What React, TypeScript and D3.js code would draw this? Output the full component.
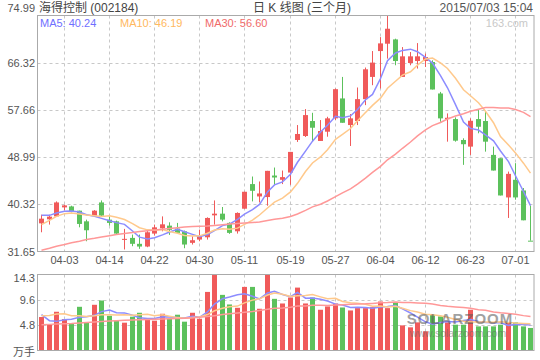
import React, { useEffect, useRef } from 'react';
import * as d3 from 'd3';

// trading days, 2015
const dates = [
  '03-31', '04-01', '04-02', '04-03', '04-07', '04-08', '04-09', '04-10', '04-13', '04-14',
  '04-15', '04-16', '04-17', '04-20', '04-21', '04-22', '04-23', '04-24', '04-27', '04-28',
  '04-29', '04-30', '05-04', '05-05', '05-06', '05-07', '05-08', '05-11', '05-12', '05-13',
  '05-14', '05-15', '05-18', '05-19', '05-20', '05-21', '05-22', '05-25', '05-26', '05-27',
  '05-28', '05-29', '06-01', '06-02', '06-03', '06-04', '06-05', '06-08', '06-09', '06-10',
  '06-11', '06-12', '06-15', '06-16', '06-17', '06-18', '06-19', '06-23', '06-24', '06-25',
  '06-26', '06-29', '06-30', '07-01', '07-02', '07-03',
];

const opens = [
  36.82, 37.56, 38.10, 39.75, 39.93, 39.15, 37.19, 38.23, 40.66, 37.50,
  37.19, 33.90, 34.15, 33.06, 32.56, 34.94, 35.91, 36.40, 35.86, 35.36,
  33.24, 33.84, 34.26, 38.29, 38.60, 36.90, 35.36, 39.51, 44.03, 41.76,
  41.65, 45.60, 44.82, 46.15, 52.13, 52.86, 55.61, 51.95, 53.65, 56.10,
  59.76, 54.87, 55.61, 59.63, 63.71, 68.46, 69.81, 70.60, 63.71, 66.27,
  66.63, 66.63, 66.45, 60.67, 55.97, 55.97, 52.13, 50.91, 55.97, 55.61,
  49.39, 48.78, 41.58, 44.82, 42.86, 33.64,
];
const highs = [
  38.41, 38.41, 40.85, 40.24, 40.06, 39.15, 37.50, 39.25, 41.03, 38.10,
  37.32, 35.80, 34.76, 34.76, 35.67, 36.59, 38.10, 37.01, 36.90, 35.49,
  34.45, 35.67, 37.92, 41.03, 39.82, 37.01, 38.84, 42.62, 45.42, 44.51,
  46.46, 47.07, 46.52, 49.94, 54.87, 57.80, 57.12, 55.79, 56.39, 61.58,
  63.71, 56.89, 61.77, 65.43, 68.46, 71.02, 74.99, 70.73, 69.19, 68.28,
  69.92, 68.00, 66.76, 60.96, 57.01, 56.28, 52.44, 56.10, 57.62, 57.31,
  50.91, 48.78, 46.33, 47.87, 43.30, 40.10,
];
const lows = [
  35.18, 36.59, 38.05, 39.20, 38.84, 36.09, 33.53, 38.15, 38.10, 36.40,
  34.76, 32.02, 32.62, 32.14, 32.44, 34.57, 35.36, 34.70, 35.07, 32.25,
  32.93, 33.53, 33.84, 36.59, 37.19, 34.89, 34.94, 39.51, 40.85, 40.66,
  40.06, 43.90, 44.03, 43.90, 51.77, 52.68, 51.77, 51.95, 52.73, 55.79,
  55.29, 51.03, 54.87, 58.53, 62.19, 61.58, 67.07, 65.85, 63.71, 65.85,
  65.24, 65.54, 61.40, 55.48, 51.82, 51.82, 47.56, 49.39, 53.36, 49.99,
  46.52, 41.94, 37.81, 41.16, 37.38, 33.64,
];
const closes = [
  37.68, 38.05, 40.66, 40.12, 39.02, 36.71, 35.55, 39.15, 38.23, 36.90,
  34.94, 33.97, 33.06, 32.56, 35.18, 36.09, 36.64, 35.62, 35.07, 32.93,
  33.72, 34.39, 37.81, 38.60, 37.50, 35.07, 38.73, 42.62, 42.80, 42.31,
  46.46, 45.24, 45.31, 49.94, 53.23, 56.70, 54.38, 53.78, 56.10, 61.46,
  55.29, 56.10, 59.63, 65.11, 66.34, 69.87, 72.56, 66.63, 67.49, 67.49,
  67.49, 67.36, 61.40, 56.10, 56.21, 52.00, 51.35, 55.66, 54.56, 51.82,
  46.52, 41.94, 45.91, 41.58, 37.38, 33.64,
];
// volume, 万手
const volumes = [
  6.34, 4.84, 7.34, 5.96, 5.08, 8.28, 5.33, 8.66, 9.47, 6.59,
  5.65, 5.27, 6.40, 7.15, 5.84, 5.65, 6.96, 6.02, 6.78, 5.46,
  7.15, 6.02, 11.1, 14.3, 10.54, 8.72, 8.09, 12.05, 12.05, 7.91,
  14.35, 9.79, 8.91, 10.04, 11.92, 8.91, 10.04, 7.72, 8.35, 8.91,
  8.15, 7.59, 8.03, 8.03, 8.22, 9.28, 8.03, 9.09, 4.76, 4.39,
  5.33, 3.64, 6.78, 6.46, 5.33, 4.89, 4.89, 7.72, 4.57, 4.57,
  4.57, 4.89, 5.21, 5.33, 4.57, 4.27,
];

// moving average values before a full window exists
const ma5Head = [38.29, 38.29, 38.73, 39.02];
const ma10Head = [36.59, 37.37, 38.10, 38.60, 38.73, 38.54, 38.36, 38.23, 38.10];
const ma30Head = [
  31.87, 32.25, 32.62, 32.93, 33.26, 33.55, 33.84, 34.08, 34.32, 34.56,
  34.76, 34.94, 35.12, 35.31, 35.44, 35.58, 35.73, 35.87, 36.02, 36.13,
  36.22, 36.28, 36.35, 36.44, 36.57, 36.70, 36.80, 36.90, 36.98,
];
const vma5Head = [6.78, 5.65, 5.52, 5.84];
const vma10Head = [6.59, 6.65, 6.90, 6.97, 6.59, 6.59, 6.46, 6.59, 6.78];
const vma30Head = [
  4.89, 4.95, 5.0, 5.05, 5.1, 5.2, 5.3, 5.4, 5.5, 5.58,
  5.65, 5.72, 5.8, 5.84, 5.88, 5.92, 5.95, 6.0, 6.05, 6.1,
  6.2, 6.3, 6.45, 6.6, 6.8, 6.95, 7.1, 7.25, 7.4,
];

const dateTicks = ['04-03', '04-14', '04-22', '04-30', '05-11', '05-19', '05-27', '06-04', '06-12', '06-23', '07-01'];
const priceTicks = [31.65, 40.32, 48.99, 57.66, 66.32, 74.99];
const volTicks = [4.8, 9.6, 14.3];
const maNames = ['MA5', 'MA10', 'MA30'];
const maValues = [40.24, 46.19, 56.60];

const RED = '#f05a5a';
const GREEN = '#5cc15c';
const MA_TEXT = ['#6f6fff', '#ffb860', '#f06a6a'];
const MA_LINE = ['#8c8cff', '#ffc98c', '#ff9898'];
const FONT = '"Liberation Sans", Arial, "Noto Sans CJK SC", sans-serif';

const movingAvg = (vals: number[], n: number, head: number[]) =>
  vals.map((_, i) => (i < n - 1 ? head[i] : (d3.mean(vals.slice(i - n + 1, i + 1)) as number)));

const App = () => {
  const ref = useRef<SVGSVGElement>(null);

  useEffect(() => {
    const svg = d3.select(ref.current);
    svg.selectAll('*').remove();

    const L = 37.5, R = 534;
    const pTop = 15.5, pBot = 251.5;
    const vTop = 274.5, vBot = 350.5;
    const n = dates.length;

    const x = d3.scaleBand<number>().domain(d3.range(n)).range([L, R]);
    const cx = (i: number) => Math.round((x(i) as number) + x.bandwidth() / 2);
    const y = d3.scaleLinear().domain([31.65, 74.99]).range([pBot, pTop]);
    const yv = d3.scaleLinear().domain([0, 14.4]).range([vBot, vTop]);

    const isUp = (i: number) =>
      closes[i] > opens[i] || (closes[i] === opens[i] && (i === 0 || closes[i] >= closes[i - 1]));

    const g = svg.append('g').style('font-family', FONT);

    // header
    g.append('text').attr('x', 39).attr('y', 12).attr('font-size', 12).attr('fill', '#444').text('海得控制 (002184)');
    g.append('text').attr('x', 253).attr('y', 12).attr('font-size', 12).attr('fill', '#444').text('日 K 线图 (三个月)');
    g.append('text').attr('x', 533).attr('y', 12).attr('font-size', 12).attr('text-anchor', 'end').attr('fill', '#555').text('2015/07/03 15:04');

    // grids
    const tickIdx = dateTicks.map((d) => dates.indexOf(d));
    [[pTop, pBot], [vTop, vBot]].forEach(([t, b]) => {
      g.selectAll(null)
        .data(tickIdx)
        .enter()
        .append('line')
        .attr('x1', (i) => cx(i) + 0.5)
        .attr('x2', (i) => cx(i) + 0.5)
        .attr('y1', t)
        .attr('y2', b)
        .attr('stroke', '#c8c8c8')
        .attr('stroke-dasharray', '3,3');
    });
    g.selectAll(null)
      .data(priceTicks.slice(1, -1))
      .enter()
      .append('line')
      .attr('x1', L)
      .attr('x2', R)
      .attr('y1', (d) => Math.round(y(d)) + 0.5)
      .attr('y2', (d) => Math.round(y(d)) + 0.5)
      .attr('stroke', '#c8c8c8')
      .attr('stroke-dasharray', '3,3');
    g.selectAll(null)
      .data(volTicks.slice(0, 2))
      .enter()
      .append('line')
      .attr('x1', L)
      .attr('x2', R)
      .attr('y1', (d) => Math.round(yv(d)) + 0.5)
      .attr('y2', (d) => Math.round(yv(d)) + 0.5)
      .attr('stroke', '#c8c8c8')
      .attr('stroke-dasharray', '3,3');

    // watermark
    g.append('text').attr('x', 528).attr('y', 27).attr('font-size', 11).attr('text-anchor', 'end').attr('fill', '#c8c8c8').text('163.com');

    // candles
    const candles = g.selectAll(null).data(d3.range(n)).enter().append('g');
    candles
      .append('line')
      .attr('x1', (i) => cx(i) + 0.5)
      .attr('x2', (i) => cx(i) + 0.5)
      .attr('y1', (i) => y(highs[i]))
      .attr('y2', (i) => y(lows[i]))
      .attr('stroke', (i) => (isUp(i) ? RED : GREEN));
    candles
      .append('rect')
      .attr('x', (i) => cx(i) - 2)
      .attr('width', 5)
      .attr('y', (i) => y(Math.max(opens[i], closes[i])))
      .attr('height', (i) => Math.max(1, Math.abs(y(opens[i]) - y(closes[i]))))
      .attr('fill', (i) => (isUp(i) ? RED : GREEN));

    // price moving averages
    const line = (s: (v: number) => number) =>
      d3.line<number>().x((_, i) => cx(i) + 0.5).y((v) => s(v));
    [movingAvg(closes, 5, ma5Head), movingAvg(closes, 10, ma10Head), movingAvg(closes, 30, ma30Head)].forEach((ma, k) => {
      g.append('path').attr('d', line(y)(ma)).attr('fill', 'none').attr('stroke', MA_LINE[k]).attr('stroke-width', 1.5);
    });

    // legend
    const legendX = [40, 120, 205];
    maNames.forEach((name, k) => {
      g.append('text')
        .attr('x', legendX[k])
        .attr('y', 27)
        .attr('font-size', 11)
        .attr('fill', MA_TEXT[k])
        .text(`${name}: ${maValues[k].toFixed(2)}`);
    });

    // volume bars
    g.selectAll(null)
      .data(d3.range(n))
      .enter()
      .append('rect')
      .attr('x', (i) => cx(i) - 2)
      .attr('width', 5)
      .attr('y', (i) => Math.max(vTop, yv(volumes[i])))
      .attr('height', (i) => vBot - Math.max(vTop, yv(volumes[i])))
      .attr('fill', (i) => (isUp(i) ? RED : GREEN));

    [movingAvg(volumes, 5, vma5Head), movingAvg(volumes, 10, vma10Head), movingAvg(volumes, 30, vma30Head)].forEach((ma, k) => {
      g.append('path').attr('d', line(yv)(ma)).attr('fill', 'none').attr('stroke', MA_LINE[k]).attr('stroke-width', 1.5);
    });

    // SOLARZOOM mark
    g.append('text').attr('x', 460).attr('y', 324).attr('font-size', 15).attr('font-weight', 'bold')
      .attr('text-anchor', 'middle').attr('fill', '#555').attr('opacity', 0.55).attr('letter-spacing', 1).text('SOLARZOOM');
    g.append('text').attr('x', 458).attr('y', 337).attr('font-size', 10.5)
      .attr('text-anchor', 'middle').attr('fill', '#666').attr('opacity', 0.5).text('www.solarzoom.com');

    // frames
    [[pTop, pBot], [vTop, vBot]].forEach(([t, b]) => {
      g.append('rect').attr('x', L).attr('y', t).attr('width', R - L).attr('height', b - t)
        .attr('fill', 'none').attr('stroke', '#aaa');
    });

    // axis labels
    g.selectAll(null)
      .data(priceTicks)
      .enter()
      .append('text')
      .attr('x', 35)
      .attr('y', (d, i) => (i === priceTicks.length - 1 ? 11.5 : y(d) + 4))
      .attr('font-size', 11)
      .attr('text-anchor', 'end')
      .attr('fill', '#555')
      .text((d) => d.toFixed(2));
    g.selectAll(null)
      .data(volTicks)
      .enter()
      .append('text')
      .attr('x', 35)
      .attr('y', (d, i) => (i === volTicks.length - 1 ? vTop + 7.5 : yv(d) + 4))
      .attr('font-size', 11)
      .attr('text-anchor', 'end')
      .attr('fill', '#555')
      .text((d) => d.toFixed(1));
    g.append('text').attr('x', 35).attr('y', 356).attr('font-size', 11).attr('text-anchor', 'end').attr('fill', '#555').text('万手');
    g.selectAll(null)
      .data(tickIdx)
      .enter()
      .append('text')
      .attr('x', (i) => cx(i) + 0.5)
      .attr('y', 264)
      .attr('font-size', 11)
      .attr('text-anchor', 'middle')
      .attr('fill', '#555')
      .text((i) => dates[i]);
  }, []);

  return (
    <div style={{ position: 'absolute', left: 0, top: 0, background: '#fff' }}>
      <svg ref={ref} width={540} height={360} />
    </div>
  );
};

export default App;
